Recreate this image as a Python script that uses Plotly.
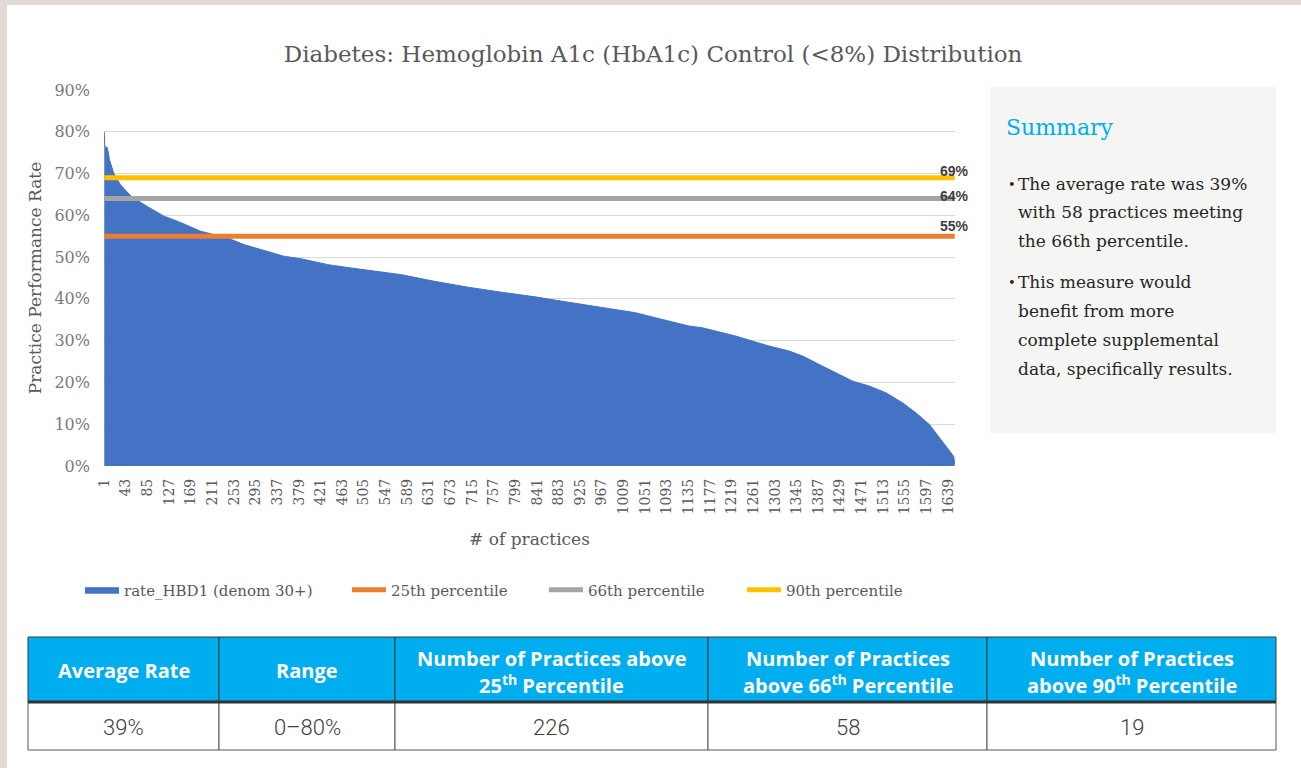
import plotly.graph_objects as go

W, H = 1301, 768

# Ranking of practices (x) and the rate read at that rank (y), sorted high to low
RANKS = [1, 2, 7, 11, 19, 32, 52, 78, 117, 143, 188, 240, 272, 318, 350, 383,
         435, 480, 532, 578, 642, 707, 772, 837, 902, 966, 1032, 1071, 1097,
         1136, 1162, 1194, 1227, 1259, 1292, 1331, 1357, 1389, 1422, 1454,
         1487, 1519, 1551, 1577, 1603, 1623, 1639, 1650, 1652]
RATES = [0.80, 0.765, 0.762, 0.734, 0.702, 0.674, 0.647, 0.626, 0.598, 0.586,
         0.562, 0.546, 0.530, 0.514, 0.502, 0.496, 0.482, 0.474, 0.466, 0.458,
         0.442, 0.428, 0.416, 0.405, 0.392, 0.379, 0.367, 0.355, 0.347, 0.335,
         0.331, 0.321, 0.311, 0.299, 0.287, 0.275, 0.263, 0.243, 0.223, 0.203,
         0.191, 0.175, 0.151, 0.127, 0.099, 0.067, 0.039, 0.023, 0.005]
N_PRACTICES = 1652

PERCENTILE_NAMES = ["25th percentile", "66th percentile", "90th percentile"]
PERCENTILE_VALUES = [0.55, 0.64, 0.69]
PERCENTILE_COLORS = ["#ED7D31", "#A5A5A5", "#FFC000"]

X_TICKS = [1, 43, 85, 127, 169, 211, 253, 295, 337, 379, 421, 463, 505, 547,
           589, 631, 673, 715, 757, 799, 841, 883, 925, 967, 1009, 1051, 1093,
           1135, 1177, 1219, 1261, 1303, 1345, 1387, 1429, 1471, 1513, 1555,
           1597, 1639]

SUMMARY_BULLETS = [
    ["The average rate was 39%", "with 58 practices meeting", "the 66th percentile."],
    ["This measure would", "benefit from more", "complete supplemental",
     "data, specifically results."],
]

TABLE_HEADERS = [["Average Rate"], ["Range"],
                 ["Number of Practices above", "25<sup>th</sup> Percentile"],
                 ["Number of Practices", "above 66<sup>th</sup> Percentile"],
                 ["Number of Practices", "above 90<sup>th</sup> Percentile"]]
TABLE_VALUES = ["39%", "0–80%", "226", "58", "19"]


def px(x):
    return x / W


def py(y):
    return 1 - y / H


SERIF = "DejaVu Serif"
GREY_TXT = "#595959"

fig = go.Figure()

fig.add_trace(go.Scatter(
    x=RANKS, y=RATES, name="rate_HBD1 (denom 30+)", mode="lines",
    fill="tozeroy", fillcolor="#4472C4", line=dict(color="#4472C4", width=1),
    legend="legend", hoverinfo="skip"))

legend_ids = ["legend2", "legend3", "legend4"]
for name, val, col, lg in zip(PERCENTILE_NAMES, PERCENTILE_VALUES, PERCENTILE_COLORS, legend_ids):
    fig.add_trace(go.Scatter(
        x=[1, N_PRACTICES], y=[val, val], name=name, mode="lines",
        line=dict(color=col, width=5), legend=lg, hoverinfo="skip"))

annotations = []

# percentile labels at the right end of the lines
label_shift = {0.69: 7, 0.64: 3, 0.55: 10}
for val in PERCENTILE_VALUES:
    annotations.append(dict(
        x=N_PRACTICES, y=val, xref="x", yref="y", text=f"<b>{val:.0%}</b>",
        showarrow=False, xanchor="center", yanchor="middle", yshift=label_shift[val],
        font=dict(family="Liberation Sans", size=14, color="#404040")))

shapes = []
# beige frame at the left and top edges of the page
shapes.append(dict(type="rect", xref="paper", yref="paper", x0=0, x1=px(7), y0=0, y1=1,
                   fillcolor="#E3DAD6", line=dict(width=0), layer="below"))
shapes.append(dict(type="rect", xref="paper", yref="paper", x0=0, x1=1, y0=py(5), y1=1,
                   fillcolor="#E3DAD6", line=dict(width=0), layer="below"))

# summary panel
shapes.append(dict(type="rect", xref="paper", yref="paper", x0=px(990), x1=px(1276),
                   y0=py(433), y1=py(87), fillcolor="#F5F5F3", line=dict(width=0), layer="below"))

annotations.append(dict(x=px(1004), y=py(128), xref="paper", yref="paper", text="Summary",
                        showarrow=False, xanchor="left", yanchor="middle",
                        font=dict(family=SERIF, size=22, color="#00AEEF")))
line_y = [[184, 212, 241], [282, 311, 340, 369]]
for lines, ys in zip(SUMMARY_BULLETS, line_y):
    annotations.append(dict(x=px(1006), y=py(ys[0]), xref="paper", yref="paper", text="•",
                            showarrow=False, xanchor="left", yanchor="middle",
                            font=dict(family=SERIF, size=13, color="#262626")))
    for txt, y in zip(lines, ys):
        annotations.append(dict(x=px(1016), y=py(y), xref="paper", yref="paper", text=txt,
                                showarrow=False, xanchor="left", yanchor="middle",
                                font=dict(family=SERIF, size=17, color="#262626")))

# table
COL_WIDTHS = [191, 176, 313, 279, 289]
x_left = 28
head_top, head_bot, body_bot = 637, 702, 750
for head, value, w in zip(TABLE_HEADERS, TABLE_VALUES, COL_WIDTHS):
    x0, x1 = x_left, x_left + w
    shapes.append(dict(type="rect", xref="paper", yref="paper", x0=px(x0), x1=px(x1),
                       y0=py(head_bot), y1=py(head_top), fillcolor="#00AEEF",
                       line=dict(color="#3a3a3a", width=1)))
    shapes.append(dict(type="rect", xref="paper", yref="paper", x0=px(x0), x1=px(x1),
                       y0=py(body_bot), y1=py(head_bot), fillcolor="white",
                       line=dict(color="#555555", width=1)))
    ys = [670] if len(head) == 1 else [658, 684]
    for txt, y in zip(head, ys):
        annotations.append(dict(x=px((x0 + x1) / 2), y=py(y),
                                xref="paper", yref="paper", text=f"<b>{txt}</b>",
                                showarrow=False, xanchor="center", yanchor="middle",
                                font=dict(family="Open Sans", size=20, color="white")))
    annotations.append(dict(x=px((x0 + x1) / 2), y=py((head_bot + body_bot) / 2 + 1),
                            xref="paper", yref="paper", text=value,
                            showarrow=False, xanchor="center", yanchor="middle",
                            font=dict(family="Roboto", size=22, color="#404040", weight=300)))
    x_left = x1
shapes.append(dict(type="line", xref="paper", yref="paper", x0=px(28), x1=px(x_left),
                   y0=py(head_bot), y1=py(head_bot), line=dict(color="#333333", width=3)))

fig.update_layout(
    width=W, height=H,
    margin=dict(l=0, r=0, t=0, b=0),
    paper_bgcolor="white", plot_bgcolor="white",
    title=dict(text="Diabetes: Hemoglobin A1c (HbA1c) Control (&lt;8%) Distribution",
               x=0.502, xanchor="center", y=py(54), yanchor="middle",
               font=dict(family=SERIF, size=23, color=GREY_TXT)),
    xaxis=dict(domain=[px(104), px(955)], range=[0.5, N_PRACTICES + 0.5],
               tickvals=X_TICKS, ticktext=[str(t) for t in X_TICKS], tickangle=-90,
               showgrid=False, zeroline=False, showline=False, ticks="",
               ticklabelstandoff=9,
               tickfont=dict(family=SERIF, size=14, color=GREY_TXT),
               title=dict(text="# of practices", standoff=19,
                          font=dict(family=SERIF, size=17, color=GREY_TXT)),
               automargin=False),
    yaxis=dict(domain=[py(466), py(90)], range=[0, 0.9], dtick=0.1, tickformat=".0%",
               showgrid=True, gridcolor="#D9D9D9", gridwidth=1, zeroline=False,
               ticks="", ticklabelstandoff=13,
               tickfont=dict(family=SERIF, size=16, color="#7a7a7a"),
               title=dict(text="Practice Performance Rate", standoff=8,
                          font=dict(family=SERIF, size=17, color=GREY_TXT)),
               automargin=False),
    shapes=shapes,
    annotations=annotations,
    showlegend=True,
)

legend_x = {"legend": 80, "legend2": 347, "legend3": 544, "legend4": 742}
for lg, lx in legend_x.items():
    fig.update_layout({lg: dict(x=px(lx), y=py(590), xanchor="left", yanchor="middle",
                                orientation="h", bgcolor="rgba(0,0,0,0)", itemwidth=34,
                                font=dict(family=SERIF, size=15, color=GREY_TXT))})

# the page body has a default 8px margin; drop it so the figure fills the window
fig.write_html("out.html", config={"displayModeBar": False},
               post_script="document.body.style.margin='0';")
